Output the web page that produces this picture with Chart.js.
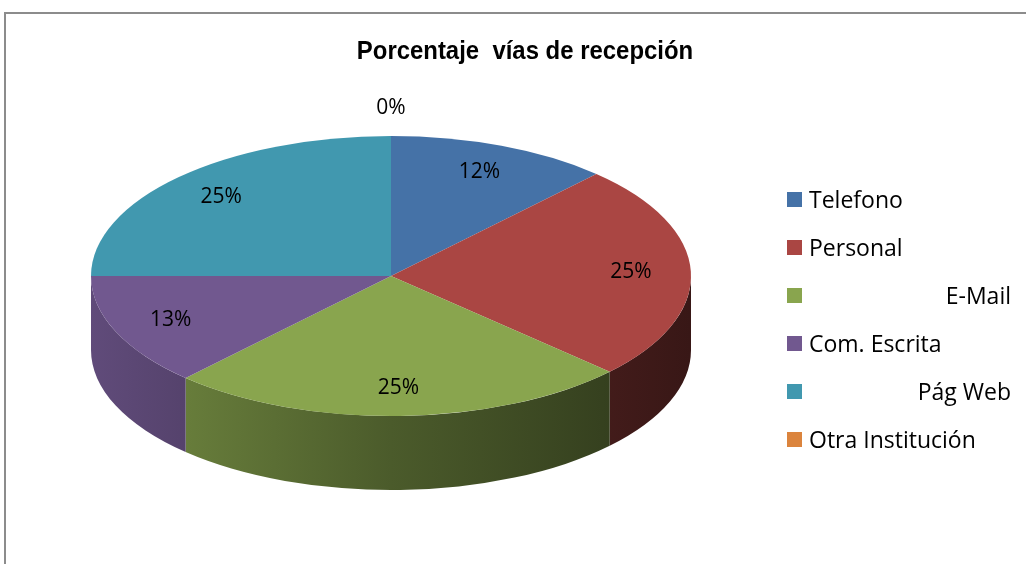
<!DOCTYPE html>
<html lang="es">
<head>
  <meta charset="UTF-8" />
  <title>Porcentaje vías de recepción</title>
  <script src="https://cdn.jsdelivr.net/npm/chart.js"></script>
  <style>
    html, body { margin: 0; padding: 0; background: #fff; overflow: hidden; }
    .frame {
      position: absolute; left: 4px; top: 12px; width: 1040px; height: 570px;
      border: 2px solid #8c8c8c; box-sizing: border-box;
    }
    .wrap { position: absolute; left: 0; top: 0; width: 1026px; height: 564px; }
    .title {
      position: absolute; left: 325px; width: 400px; top: 35px; text-align: center;
      font-family: "Liberation Sans Narrow", "Arial Narrow", "Liberation Sans", sans-serif;
      font-weight: bold; font-size: 26px; color: #000; white-space: pre;
      transform: scaleX(0.92); transform-origin: 200px 0;
    }
    .legend { position: absolute; left: 787px; top: 175px; width: 224px; }
    .legend .item {
      height: 48px; display: flex; align-items: center;
      font-family: "Open Sans", sans-serif; font-size: 23px; color: #000;
    }
    .legend .box { width: 15px; height: 15px; margin-right: 7px; flex: none; }
    .legend .txt { flex: 1; white-space: nowrap; }
    .legend .txt.right { text-align: right; }
  </style>
</head>
<body>
  <div class="frame"></div>
  <div class="wrap"><canvas id="pieChart"></canvas></div>
  <div class="title" id="title"></div>
  <div class="legend" id="legend"></div>

<script>
  const chartTitle = 'Porcentaje  vías de recepción';
  const categories = ['Telefono', 'Personal', 'E-Mail', 'Com. Escrita', 'Pág Web', 'Otra Institución'];
  const values = [12, 25, 25, 13, 25, 0];
  const colors = ['#4572A7', '#AA4643', '#89A54E', '#71588F', '#4198AF', '#DB843D'];

  // legend labels that sit flush right in the original
  const rightAligned = ['E-Mail', 'Pág Web'];

  // where the tilted pie goes on the page
  const PIE = { cx: 391, cy: 276, rx: 300, ry: 140, depth: 74 };

  document.getElementById('title').textContent = chartTitle;

  const legend = document.getElementById('legend');
  categories.forEach((c, i) => {
    const row = document.createElement('div');
    row.className = 'item';
    row.innerHTML = '<span class="box" style="background:' + colors[i] + '"></span>' +
      '<span class="txt' + (rightAligned.includes(c) ? ' right' : '') + '">' + c + '</span>';
    legend.appendChild(row);
  });

  function shade(hex, f) {
    const n = parseInt(hex.slice(1), 16);
    const r = Math.round(((n >> 16) & 255) * f);
    const g = Math.round(((n >> 8) & 255) * f);
    const b = Math.round((n & 255) * f);
    return 'rgb(' + r + ',' + g + ',' + b + ')';
  }

  // squash the pie into an ellipse and give it a side wall
  const tiltPlugin = {
    id: 'tilt',
    beforeDatasetsDraw(chart) {
      const ctx = chart.ctx;
      const arcs = chart.getDatasetMeta(0).data;
      const first = arcs[0];
      ctx.save();

      arcs.forEach((el, i) => {
        const a = Math.max(el.startAngle, 0);
        const b = Math.min(el.endAngle, Math.PI);
        if (b <= a) return;
        const g = ctx.createLinearGradient(PIE.cx - PIE.rx, 0, PIE.cx + PIE.rx, 0);
        g.addColorStop(0, shade(colors[i], 0.85));
        g.addColorStop(0.5, shade(colors[i], 0.55));
        g.addColorStop(1, shade(colors[i], 0.33));
        ctx.beginPath();
        ctx.ellipse(PIE.cx, PIE.cy, PIE.rx, PIE.ry, 0, a, b);
        ctx.ellipse(PIE.cx, PIE.cy + PIE.depth, PIE.rx, PIE.ry, 0, b, a, true);
        ctx.closePath();
        ctx.fillStyle = g;
        ctx.fill();
      });

      const R = first.outerRadius;
      ctx.translate(PIE.cx, PIE.cy);
      ctx.scale(PIE.rx / R, PIE.ry / R);
      ctx.translate(-first.x, -first.y);
    },
    afterDatasetsDraw(chart) {
      const ctx = chart.ctx;
      ctx.restore();
      const total = values.reduce((s, v) => s + v, 0);
      const arcs = chart.getDatasetMeta(0).data;
      ctx.save();
      ctx.font = '21px "Open Sans", sans-serif';
      ctx.fillStyle = '#000';
      ctx.textAlign = 'center';
      ctx.textBaseline = 'middle';
      arcs.forEach((el, i) => {
        const mid = (el.startAngle + el.endAngle) / 2;
        const f = values[i] === 0 ? 1.2 : 0.8;
        const x = PIE.cx + PIE.rx * f * Math.cos(mid);
        const y = PIE.cy + PIE.ry * f * Math.sin(mid);
        ctx.fillText(Math.round(values[i] / total * 100) + '%', x, y);
      });
      ctx.restore();
    }
  };

  new Chart(document.getElementById('pieChart'), {
    type: 'pie',
    data: {
      labels: categories,
      datasets: [{
        data: values,
        backgroundColor: colors,
        borderWidth: 0,
        clip: false
      }]
    },
    options: {
      responsive: true,
      maintainAspectRatio: false,
      animation: false,
      events: [],
      plugins: {
        legend: { display: false },
        tooltip: { enabled: false },
        title: { display: false }
      }
    },
    plugins: [tiltPlugin]
  });
</script>
</body>
</html>
